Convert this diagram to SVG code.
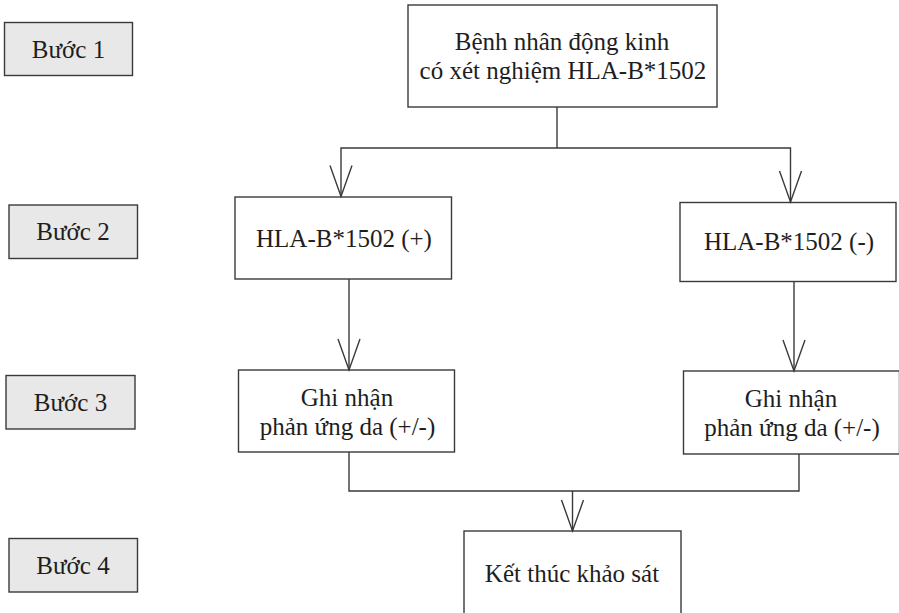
<svg xmlns="http://www.w3.org/2000/svg" width="899" height="613" viewBox="0 0 899 613">
<defs>
<style>
.step rect{fill:#e8e8e8;stroke:#3a3a3a;stroke-width:1.4}
.node rect{fill:#ffffff;stroke:#3a3a3a;stroke-width:1.4}
text{font-family:"Liberation Serif","Times New Roman",serif;font-size:25px;fill:#1e1e1e;text-anchor:middle}
.conn path{fill:none;stroke:#3a3a3a;stroke-width:1.4}
</style>
<marker id="v" markerUnits="userSpaceOnUse" markerWidth="40" markerHeight="40" refX="0" refY="0" orient="auto" overflow="visible">
<path d="M-31,-11 L0,0 L-31,11" fill="none" stroke="#3a3a3a" stroke-width="1.4"/>
</marker>
</defs>
<rect width="899" height="613" fill="#ffffff"/>

<g id="step1" class="step"><rect x="4.5" y="22.5" width="128" height="53"/><text x="68.5" y="58">Bước 1</text></g>
<g id="step2" class="step"><rect x="9" y="205" width="128.5" height="53.5"/><text x="73" y="240">Bước 2</text></g>
<g id="step3" class="step"><rect x="6" y="375.5" width="129" height="53.5"/><text x="70.5" y="411">Bước 3</text></g>
<g id="step4" class="step"><rect x="9" y="538.5" width="128.5" height="53.5"/><text x="73" y="574">Bước 4</text></g>

<g id="start" class="node"><rect x="408" y="5" width="309" height="102"/><text x="562" y="50">Bệnh nhân động kinh</text><text x="563" y="79">có xét nghiệm HLA-B*1502</text></g>
<g id="pos" class="node"><rect x="235" y="197" width="216.5" height="82"/><text x="344" y="247">HLA-B*1502 (+)</text></g>
<g id="neg" class="node"><rect x="680" y="202.5" width="216" height="79"/><text x="789" y="250">HLA-B*1502 (-)</text></g>
<g id="rec-pos" class="node"><rect x="238.5" y="370" width="216" height="82"/><text x="347" y="406">Ghi nhận</text><text x="347.5" y="435">phản ứng da (+/-)</text></g>
<g id="rec-neg" class="node"><rect x="683.5" y="371" width="216" height="83"/><text x="791" y="407">Ghi nhận</text><text x="792" y="436">phản ứng da (+/-)</text></g>
<g id="end" class="node"><rect x="464" y="531" width="217" height="90"/><text x="572" y="582">Kết thúc khảo sát</text></g>

<g id="connectors" class="conn">
<path d="M557,107 V148"/>
<path d="M557,148 H341 V196.5" marker-end="url(#v)"/>
<path d="M557,148 H790.5 V202" marker-end="url(#v)"/>
<path d="M349,279 V370" marker-end="url(#v)"/>
<path d="M794,281.5 V371" marker-end="url(#v)"/>
<path d="M349,452 V491 H799 V454"/>
<path d="M572.5,491 V531" marker-end="url(#v)"/>
</g>
</svg>
